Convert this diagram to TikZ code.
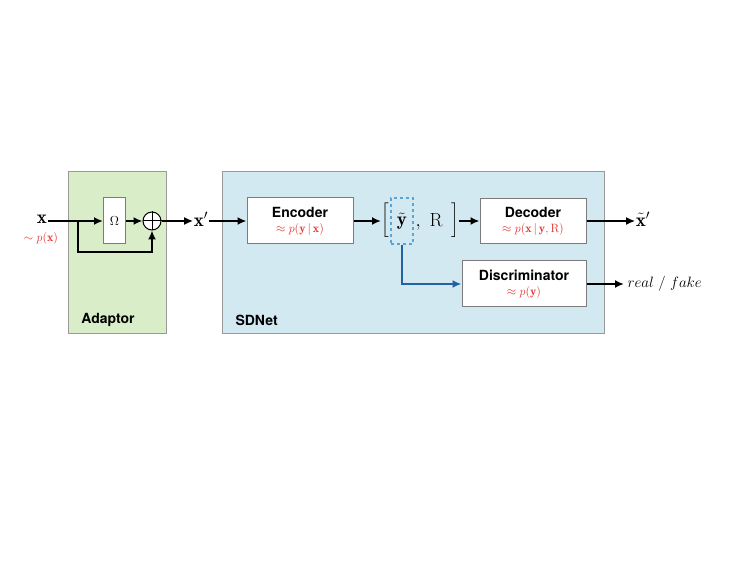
\documentclass[tikz,border=0pt]{standalone}
\usepackage{fix-cm}
\usepackage{amsmath}
\usepackage{fontspec}
\setsansfont{TeX Gyre Heros}
\usetikzlibrary{positioning,arrows.meta}
\definecolor{adaptorgreen}{HTML}{D9EEC8}
\definecolor{sdnetblue}{HTML}{D3E9F1}
\definecolor{framegray}{HTML}{9A9A9A}
\definecolor{probred}{HTML}{E5302A}
\definecolor{latentblue}{HTML}{5AA5D6}
\definecolor{pathblue}{HTML}{22639F}
\begin{document}
\begin{tikzpicture}[x=1pt,y=-1pt,
	block/.style={rectangle, draw=framegray!80!black, fill=white, line width=1pt, inner sep=0pt, align=center, font=\sffamily\bfseries\fontsize{14}{17}\selectfont},
	flow/.style={-{Latex[length=9pt,width=8pt]}, line width=2.3pt},
	symbol/.style={inner sep=0.5pt, font=\fontsize{19}{22}\selectfont},
	prob/.style={text=probred, font=\fontsize{12}{14}\selectfont}]

	\useasboundingbox (0,0) rectangle (747,561);

	%Containers
	\draw[framegray, line width=1pt, fill=adaptorgreen] (68,172) rectangle (166,334);
	\draw[framegray, line width=1pt, fill=sdnetblue] (222,172) rectangle (604,334);
	\node (adaptorLabel) at (108,320) [font=\sffamily\bfseries\fontsize{14}{17}\selectfont] {Adaptor};
	\node (sdnetLabel) at (232,320) [anchor=west, font=\sffamily\bfseries\fontsize{14}{17}\selectfont] {SDNet};

	%Inputs and outputs
	\node (xin) at (42,219) [symbol] {$\mathbf{x}$};
	\node (xprior) at (41,239) [prob] {$\sim p(\mathbf{x})$};
	\node (xprime) at (201,219) [symbol] {$\mathbf{x}'$};
	\node (xout) at (643,219) [symbol] {$\tilde{\mathbf{x}}'$};
	\node (realfake) at (624,284) [anchor=west, font=\fontsize{15}{18}\selectfont] {$real\ /\ fake$};

	%Adaptor
	\node (omega) at (114.5,221) [block, minimum width=22, minimum height=46, font=\fontsize{13}{15}\selectfont] {$\Omega$};
	\node (sum) at (152,221) [circle, draw, fill=white, line width=1pt, minimum size=18, inner sep=0pt] {};
	\draw[line width=1pt] (sum.north) -- (sum.south);
	\draw[line width=1pt] (sum.west) -- (sum.east);
	\coordinate (split) at (78,221);

	%SDNet
	\node (encoder) at (300,221) [block, minimum width=106, minimum height=46] {Encoder\\[-2pt]{\color{probred}\fontsize{12}{14}\selectfont$\approx p(\mathbf{y}\,|\,\mathbf{x})$}};
	\node (decoder) at (533,221) [block, minimum width=106, minimum height=45] {Decoder\\[-2pt]{\color{probred}\fontsize{12}{14}\selectfont$\approx p(\mathbf{x}\,|\,\mathbf{y},\mathrm{R})$}};
	\node (discriminator) at (524,284) [block, minimum width=124, minimum height=46] {Discriminator\\[-2pt]{\color{probred}\fontsize{12}{14}\selectfont$\approx p(\mathbf{y})$}};

	%Latent
	\node (lbr) at (385,220) [symbol, inner sep=0pt, font=\fontsize{14}{17}\selectfont] {$\bigg[$};
	\node (ytilde) at (402,221) [draw=latentblue, dashed, line width=1.3pt, minimum width=22, minimum height=46, inner sep=0pt, font=\fontsize{19}{22}\selectfont] {$\tilde{\mathbf{y}}$};
	\node (rcode) at (429,222) [symbol, inner sep=0pt] {$,\ \mathrm{R}$};
	\node (rbr) at (455,220) [symbol, inner sep=0pt, font=\fontsize{14}{17}\selectfont] {$\bigg]$};

	%Arrows
	\draw[line width=2.3pt] (xin.east |- split) -- (split);
	\draw[flow] (split) -- (omega.west);
	\draw[flow] (omega.east) -- (sum.west);
	\draw[flow] (split) -- ++(0,31) -| (sum.south);
	\draw[flow] (sum.east) -- (xprime.west |- sum.east);
	\draw[flow] (xprime.east |- encoder.west) -- (encoder.west);
	\draw[flow] (encoder.east) -- (lbr.west |- encoder.east);
	\draw[flow] (rbr.east |- decoder.west) -- (decoder.west);
	\draw[flow] (decoder.east) -- (xout.west |- decoder.east);
	\draw[flow] (discriminator.east) -- (realfake.west);
	\draw[flow, pathblue, line width=2pt] (ytilde.south) |- (discriminator.west);

\end{tikzpicture}
\end{document}
